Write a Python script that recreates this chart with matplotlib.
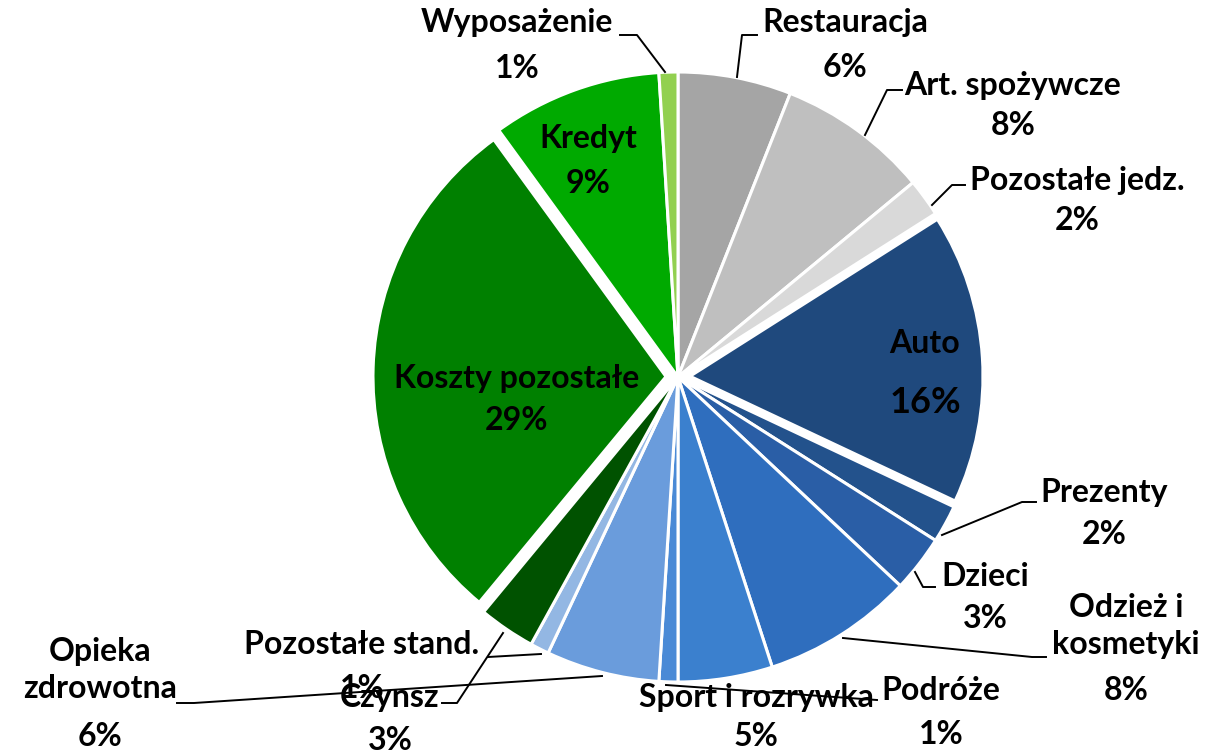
import matplotlib.pyplot as plt

W, H = 1205, 753

# slices, clockwise from 12 o'clock
names = ['Restauracja', 'Art. spożywcze', 'Pozostałe jedz.', 'Auto', 'Prezenty',
         'Dzieci', 'Odzież i\nkosmetyki', 'Sport i rozrywka', 'Podróże',
         'Opieka\nzdrowotna', 'Pozostałe stand.', 'Czynsz', 'Koszty pozostałe',
         'Kredyt', 'Wyposażenie']
values = [6, 8, 2, 16, 2, 3, 8, 5, 1, 6, 1, 3, 29, 9, 1]
colors = ['#a5a5a5', '#bfbfbf', '#d9d9d9', '#1f497d', '#23528c', '#2a5ea6',
          '#2f6ebe', '#3b80ce', '#4a8ad6', '#6a9cdc', '#93b7e3', '#005200',
          '#008000', '#00aa00', '#92d050']
explode_px = [0, 0, 0, 12, 0, 0, 0, 0, 0, 0, 0, 0, 12, 0, 0]

# label layout (image pixels, y down): x, y of name, y of percent
label_pos = [(845, 22, 67), (1013, 85, 125), (1077, 180, 220), (925, 343, 402),
             (1104, 492, 534), (985, 577, 618), (1126, 626, 690), (756, 697, 737),
             (941, 690, 735), (100, 670, 737), (362, 645, 688), (390, 698, 740),
             (517, 378, 420), (588, 138, 183), (517, 22, 68)]
pct_size = [23] * len(values)
pct_size[3] = 26

leaders = [
    [(757, 35), (742, 35), (737, 77)],
    [(902, 90), (887, 90), (865, 135)],
    [(965, 185), (952, 185), (932, 205)],
    [(1036, 502), (1022, 502), (942, 535)],
    [(935, 587), (923, 587), (915, 572)],
    [(1046, 657), (1032, 657), (843, 638)],
    [(877, 700), (666, 685)],
    [(177, 703), (194, 703), (602, 676)],
    [(488, 657), (541, 654)],
    [(442, 703), (457, 703), (503, 633)],
    [(620, 35), (637, 35), (665, 72)],
]

cx, cy, R = 678, 377, 305

fig = plt.figure(figsize=(W / 100, H / 100), dpi=100)
ax = fig.add_axes([0, 0, 1, 1])

wedges, _ = ax.pie(values, colors=colors, startangle=90, counterclock=False,
                   center=(cx, H - cy), radius=R, explode=explode_px,
                   wedgeprops=dict(edgecolor='white', linewidth=2.2))
for w, e in zip(wedges, explode_px):
    if e:
        w.set_radius(R - e)

ax.set_xlim(0, W)
ax.set_ylim(0, H)
ax.set_aspect('equal')
ax.axis('off')

font = dict(family='Lato', weight='bold', color='black')
for name, v, (x, yn, yp), ps in zip(names, values, label_pos, pct_size):
    ax.text(x, H - yn, name, ha='center', va='center', fontsize=23,
            linespacing=1.3, **font)
    ax.text(x, H - yp, f'{v}%', ha='center', va='center', fontsize=ps, **font)

for pts in leaders:
    xs = [p[0] for p in pts]
    ys = [H - p[1] for p in pts]
    ax.plot(xs, ys, color='black', lw=1.4)

fig.savefig('out.png', dpi=100)
